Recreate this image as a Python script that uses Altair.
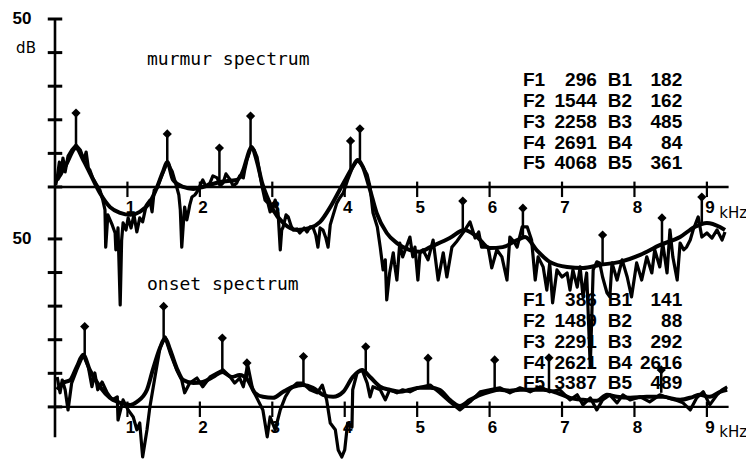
import altair as alt
import pandas as pd

# ---------------- data (kHz, dB) ----------------
MUR_NOISY_KHZ = [0.01,0.03,0.06,0.08,0.11,0.14,0.18,0.23,0.29,0.35,
    0.40,0.43,0.46,0.48,0.52,0.57,0.62,0.66,0.69,0.70,
    0.73,0.79,0.83,0.84,0.87,0.90,0.92,0.94,0.98,1.01,
    1.05,1.09,1.13,1.17,1.21,1.26,1.31,1.34,1.37,1.41,
    1.45,1.49,1.55,1.59,1.62,1.66,1.68,1.71,1.73,1.75,
    1.78,1.79,1.82,1.84,1.86,1.89,1.93,1.96,2.00,2.04,
    2.08,2.14,2.18,2.24,2.28,2.32,2.36,2.42,2.46,2.51,
    2.55,2.60,2.62,2.65,2.71,2.75,2.79,2.83,2.86,2.90,
    2.94,2.97,3.00,3.04,3.08,3.11,3.13,3.15,3.19,3.22,
    3.26,3.29,3.34,3.38,3.44,3.48,3.52,3.56,3.60,3.63,
    3.66,3.70,3.74,3.77,3.80,3.82,3.89,3.93,3.98,4.04,
    4.11,4.18,4.25,4.31,4.35,4.39,4.45,4.49,4.53,4.56,
    4.58,4.62,4.67,4.69,4.72,4.76,4.80,4.86,4.90,4.94,
    4.97,5.01,5.04,5.08,5.15,5.22,5.29,5.36,5.41,5.48,
    5.54,5.59,5.66,5.73,5.80,5.85,5.89,5.98,6.03,6.10,
    6.17,6.24,6.28,6.34,6.38,6.45,6.52,6.58,6.63,6.67,
    6.74,6.79,6.83,6.87,6.93,7.00,7.07,7.11,7.15,7.21,
    7.25,7.29,7.34,7.39,7.43,7.48,7.52,7.56,7.62,7.66,
    7.69,7.76,7.83,7.90,7.96,8.03,8.10,8.17,8.24,8.28,
    8.35,8.39,8.45,8.49,8.53,8.59,8.63,8.68,8.72,8.77,
    8.81,8.88,8.93,9.00,9.07,9.14,9.21,9.25]
MUR_NOISY_DB = [0.6,2.7,7.4,3.6,8.6,4.5,9.2,11.0,12.5,11.0,
    8.0,10.4,5.7,5.1,2.7,0.9,-0.9,-3.9,-6.8,-17.9,
    -8.3,-11.3,-13.7,-18.7,-12.2,-35.1,-15.8,-10.7,-12.8,-9.2,
    -12.2,-8.3,-13.4,-9.2,-10.4,-5.4,-3.9,-7.4,-0.9,-0.3,
    2.1,4.2,7.4,5.7,4.5,1.5,0.0,-2.4,-6.8,-17.9,
    -8.3,-6.0,-9.8,-7.7,-5.4,-3.0,-2.4,-1.5,0.3,2.1,
    0.3,1.2,3.3,2.7,0.3,1.2,3.9,2.1,0.3,1.2,
    3.3,2.7,5.1,8.0,11.9,11.0,8.9,3.6,0.0,-3.9,
    -4.8,-7.4,-6.8,-3.9,-7.7,-18.7,-12.8,-11.9,-8.3,-8.9,
    -11.6,-12.8,-12.5,-13.7,-12.2,-13.4,-11.9,-11.9,-14.3,-17.9,
    -12.2,-12.8,-15.2,-17.9,-11.3,-9.8,-4.8,-3.3,-1.8,2.1,
    6.0,8.0,6.0,3.6,0.0,-7.7,-11.9,-17.9,-24.7,-21.7,
    -33.6,-25.6,-19.6,-23.2,-27.7,-16.7,-20.8,-17.3,-14.9,-20.8,
    -17.9,-27.7,-19.3,-18.7,-21.7,-15.8,-27.7,-19.6,-26.8,-17.9,
    -16.4,-14.9,-12.8,-10.4,-15.2,-13.4,-17.9,-17.9,-24.1,-18.7,
    -20.8,-27.7,-14.9,-16.4,-17.9,-11.9,-11.9,-15.8,-27.7,-20.8,
    -23.8,-30.7,-22.6,-34.5,-24.7,-26.8,-25.6,-30.7,-24.7,-29.8,
    -23.8,-32.7,-25.6,-53.6,-24.7,-22.3,-22.6,-26.8,-31.5,-32.7,
    -22.6,-27.7,-21.7,-26.8,-32.7,-22.6,-27.7,-20.8,-25.6,-18.7,
    -23.8,-16.7,-25.6,-12.8,-20.8,-27.7,-16.7,-18.7,-17.9,-15.8,
    -12.8,-8.9,-14.9,-13.7,-15.2,-12.8,-15.8,-13.4]

MUR_ENV_KHZ = [0.03,0.15,0.29,0.39,0.48,0.62,0.76,0.90,1.04,1.17,
    1.31,1.41,1.49,1.55,1.63,1.77,1.91,2.04,2.28,2.51,
    2.60,2.65,2.71,2.79,2.86,2.93,3.01,3.15,3.34,3.52,
    3.66,3.80,3.93,4.03,4.11,4.18,4.25,4.35,4.44,4.58,
    4.72,4.90,5.04,5.18,5.45,5.65,5.83,6.00,6.18,6.38,
    6.49,6.65,6.83,7.07,7.29,7.52,7.80,8.08,8.35,8.63,
    8.83,9.00,9.18,9.25]
MUR_ENV_DB = [2.1,6.5,11.6,8.0,4.2,-1.8,-6.0,-7.7,-8.3,-7.4,
    -4.5,0.0,4.5,7.4,2.1,0.0,-0.6,0.0,1.5,2.1,
    5.1,8.6,11.9,7.4,1.2,-3.0,-6.8,-10.7,-12.8,-12.2,
    -10.4,-6.0,-0.9,3.0,6.0,8.0,6.0,-0.9,-7.7,-13.7,
    -16.7,-18.8,-19.3,-17.9,-15.2,-12.8,-14.9,-18.2,-17.9,-15.8,
    -14.9,-18.8,-22.3,-23.8,-24.1,-23.2,-22.3,-20.2,-17.3,-14.9,
    -11.9,-10.7,-11.9,-12.8]

ONS_NOISY_KHZ = [0.03,0.07,0.10,0.14,0.18,0.23,0.30,0.39,0.46,0.51,
    0.55,0.59,0.65,0.72,0.79,0.86,0.87,0.94,1.01,1.08,
    1.13,1.17,1.21,1.27,1.31,1.38,1.45,1.52,1.59,1.68,
    1.75,1.79,1.86,1.96,2.04,2.14,2.24,2.32,2.42,2.48,
    2.55,2.60,2.66,2.73,2.80,2.87,2.93,2.97,3.04,3.11,
    3.18,3.24,3.34,3.42,3.52,3.62,3.69,3.75,3.80,3.87,
    3.91,3.96,4.00,4.04,4.10,4.11,4.17,4.24,4.31,4.35,
    4.39,4.49,4.56,4.62,4.72,4.80,4.90,5.01,5.18,5.31,
    5.45,5.59,5.73,5.87,6.00,6.14,6.28,6.42,6.56,6.70,
    6.83,6.97,7.11,7.21,7.29,7.39,7.48,7.56,7.66,7.76,
    7.84,7.94,8.08,8.21,8.35,8.46,8.56,8.67,8.77,8.86,
    8.95,9.04,9.14,9.21,9.28]
ONS_NOISY_DB = [8.9,4.2,8.0,5.1,-0.9,7.1,11.0,15.5,11.9,6.0,
    10.1,5.1,7.4,4.2,2.1,3.0,-3.9,2.1,-0.9,-3.0,
    -6.8,-4.8,-14.9,-6.8,0.0,8.9,17.6,20.8,16.1,11.0,
    8.0,4.2,7.1,8.6,6.0,8.9,10.1,11.0,8.9,7.1,
    8.6,6.0,12.5,5.1,2.1,-0.9,-8.9,-3.0,-6.8,-0.9,
    3.0,5.1,7.1,7.1,5.1,4.2,6.5,2.1,-4.8,-6.8,
    -12.8,-14.9,-12.8,-4.8,-6.0,5.1,10.1,11.0,7.1,3.0,
    6.0,5.1,2.1,5.1,4.2,5.1,4.5,5.7,6.5,4.2,
    1.5,-0.9,1.5,4.5,5.1,5.7,4.2,5.7,4.5,6.0,
    4.5,5.1,2.1,3.6,0.6,2.7,-0.9,2.1,3.6,1.2,
    3.6,2.1,3.0,1.5,3.6,2.7,2.1,1.2,-0.9,2.7,
    4.5,0.6,3.6,5.1,6.0]

ONS_ENV_KHZ = [0.03,0.11,0.21,0.30,0.39,0.48,0.62,0.76,0.90,1.04,
    1.13,1.27,1.35,1.45,1.52,1.59,1.68,1.77,1.91,2.04,
    2.18,2.31,2.44,2.55,2.66,2.76,2.87,3.01,3.15,3.29,
    3.42,3.56,3.70,3.84,3.98,4.11,4.24,4.35,4.49,4.62,
    4.76,4.90,5.04,5.18,5.31,5.45,5.59,5.73,5.87,6.00,
    6.14,6.28,6.42,6.56,6.74,6.93,7.11,7.29,7.48,7.62,
    7.76,7.94,8.17,8.39,8.63,8.81,8.90,9.04,9.18,9.28]
ONS_ENV_DB = [5.1,7.1,8.0,11.9,15.5,11.0,6.0,2.7,1.2,0.6,
    1.5,5.1,11.0,17.6,20.5,17.0,11.6,8.0,7.1,7.4,
    8.9,10.4,8.9,9.5,8.0,4.2,3.0,2.7,4.5,6.0,
    6.5,5.7,3.6,3.0,4.5,8.9,11.0,8.9,6.0,5.1,
    4.5,5.1,5.7,5.7,5.1,2.1,0.3,2.1,3.6,4.5,
    5.1,4.8,5.1,5.1,5.1,4.2,2.7,2.1,1.8,3.6,
    3.0,2.7,3.0,3.0,2.1,3.0,3.6,3.0,4.5,5.1]

# formant / pole markers: frequency, envelope level, marker level
MUR_STEM_KHZ = [0.29, 1.55, 2.27, 2.70, 4.08, 4.21, 5.63, 6.46, 7.56, 8.38, 8.93]
MUR_STEM_BASE = [11.6, 7.4, 1.5, 11.9, 4.5, 7.0, -12.8, -14.9, -23.5, -17.0, -10.8]
MUR_STEM_TOP = [22.0, 15.8, 11.6, 21.1, 13.7, 17.3, -4.2, -6.3, -14.3, -9.2, -3.0]

ONS_STEM_KHZ = [0.41, 1.50, 2.31, 2.65, 3.43, 4.29, 5.15, 6.07, 6.82, 8.37]
ONS_STEM_BASE = [15.5, 20.5, 11.0, 8.6, 6.5, 10.4, 6.2, 5.1, 4.8, 4.2]
ONS_STEM_TOP = [23.9, 29.9, 20.5, 13.1, 15.0, 17.9, 14.5, 14.0, 14.6, 11.0]

ROW_LABELS_F = ["F1", "F2", "F3", "F4", "F5"]
ROW_LABELS_B = ["B1", "B2", "B3", "B4", "B5"]
MUR_F = ["296", "1544", "2258", "2691", "4068"]
MUR_B = ["182", "162", "485", "84", "361"]
ONS_F = ["386", "1489", "2291", "2621", "3387"]
ONS_B = ["141", "88", "292", "2616", "489"]

X_TICKS = [1, 2, 3, 4, 5, 6, 7, 8, 9]
Y_TICKS = [0, 10, 20, 30, 40, 50]
PANELS = ["murmur", "onset"]
PANEL_TITLES = {"murmur": "murmur spectrum", "onset": "onset spectrum"}

# ---------------- layout ----------------
PANEL_OFFSET = 65.47          # murmur panel is drawn above the onset panel
X_MAX = 9.54
Y_MIN, Y_MAX = -16.4, 118.15
INK = "#000000"
XS = alt.Scale(domain=[0, X_MAX], nice=False, zero=False)
YS = alt.Scale(domain=[Y_MIN, Y_MAX], nice=False, zero=False)


def place(field, out):
    return {out: f"datum.{field} + (datum.panel == 'murmur' ? {PANEL_OFFSET} : 0)"}


def X(f):
    return alt.X(f"{f}:Q", scale=XS, axis=None)


def Y(f):
    return alt.Y(f"{f}:Q", scale=YS, axis=None)


# lines
rows = []
for panel, kind, xs, ys in [
    ("murmur", "noisy", MUR_NOISY_KHZ, MUR_NOISY_DB),
    ("murmur", "env", MUR_ENV_KHZ, MUR_ENV_DB),
    ("onset", "noisy", ONS_NOISY_KHZ, ONS_NOISY_DB),
    ("onset", "env", ONS_ENV_KHZ, ONS_ENV_DB),
]:
    assert len(xs) == len(ys)
    for i, (k, d) in enumerate(zip(xs, ys)):
        rows.append({"panel": panel, "kind": kind, "series": panel + kind,
                     "i": i, "khz": k, "db": d})
lines = pd.DataFrame(rows)

noisy = alt.Chart(lines).transform_filter(alt.datum.kind == "noisy").transform_calculate(
    **place("db", "pos")).mark_line(color=INK, strokeWidth=3.2, strokeJoin="round").encode(
    x=X("khz"), y=Y("pos"), detail="series:N", order="i:Q")

env = alt.Chart(lines).transform_filter(alt.datum.kind == "env").transform_calculate(
    **place("db", "pos")).mark_line(color=INK, strokeWidth=4, interpolate="monotone").encode(
    x=X("khz"), y=Y("pos"), detail="series:N", order="i:Q")

# stems
srows = []
for panel, ks, bs, ts in [("murmur", MUR_STEM_KHZ, MUR_STEM_BASE, MUR_STEM_TOP),
                          ("onset", ONS_STEM_KHZ, ONS_STEM_BASE, ONS_STEM_TOP)]:
    for k, b, t in zip(ks, bs, ts):
        srows.append({"panel": panel, "khz": k, "base": b, "top": t})
stems = pd.DataFrame(srows)
stem_base = alt.Chart(stems).transform_calculate(**place("base", "p0")).transform_calculate(
    **place("top", "p1"))
stem_rules = stem_base.mark_rule(color=INK, strokeWidth=2.5).encode(
    x=X("khz"), y=Y("p0"), y2=alt.Y2("p1"))
stem_heads = stem_base.mark_point(shape="diamond", filled=True, color=INK, size=85, opacity=1).encode(
    x=X("khz"), y=Y("p1"))

# axes
axis_rows = [{"panel": p, "x0": 0.0, "x1": 9.3, "db": 0.0} for p in PANELS]
haxes = alt.Chart(pd.DataFrame(axis_rows)).transform_calculate(**place("db", "pos")).mark_rule(
    color=INK, strokeWidth=2.4).encode(x=X("x0"), x2=alt.X2("x1"), y=Y("pos"))
vaxis = alt.Chart(pd.DataFrame([{"panel": "axis", "x": 0.0, "lo": -9.0,
                                 "hi": 50.0 + PANEL_OFFSET}])).mark_rule(
    color=INK, strokeWidth=2.6).encode(x=X("x"), y=Y("lo"), y2=alt.Y2("hi"))

xt = pd.DataFrame([{"panel": p, "khz": k, "lo": -3.0, "hi": 1.6, "labdb": -6.4, "lab": str(k)}
                   for p in PANELS for k in X_TICKS])
xticks = alt.Chart(xt).transform_calculate(**place("lo", "p0")).transform_calculate(
    **place("hi", "p1")).mark_rule(color=INK, strokeWidth=2.2).encode(
    x=X("khz"), y=Y("p0"), y2=alt.Y2("p1"))
xlabels = alt.Chart(xt).transform_calculate(**place("labdb", "p0")).mark_text(
    font="Liberation Sans", fontSize=17, fontWeight="bold", color=INK,
    align="center", baseline="middle", dx=3).encode(
    x=X("khz"), y=Y("p0"), text="lab:N")

yt = pd.DataFrame([{"panel": p, "db": d, "a": -0.1, "b": 0.1} for p in PANELS for d in Y_TICKS])
yticks = alt.Chart(yt).transform_calculate(**place("db", "pos")).mark_rule(
    color=INK, strokeWidth=3).encode(x=X("a"), x2=alt.X2("b"), y=Y("pos"))

# text annotations
units = pd.DataFrame([
    {"panel": "murmur", "khz": -0.455, "db": 50.0, "t": "50"},
    {"panel": "onset", "khz": -0.455, "db": 50.0, "t": "50"},
])
num_labels = alt.Chart(units).transform_calculate(**place("db", "pos")).mark_text(
    font="Liberation Sans", fontSize=17, fontWeight="bold", color=INK,
    align="center", baseline="middle").encode(x=X("khz"), y=Y("pos"), text="t:N")
db_label = alt.Chart(pd.DataFrame([{"panel": "murmur", "khz": -0.40, "db": 41.4, "t": "dB"}])
                     ).transform_calculate(**place("db", "pos")).mark_text(
    font="DejaVu Sans", fontSize=15, color=INK, align="center", baseline="middle").encode(
    x=X("khz"), y=Y("pos"), text="t:N")
khz_labels = alt.Chart(pd.DataFrame([{"panel": p, "khz": 9.17, "db": -7.6, "t": "kHz"}
                                     for p in PANELS])).transform_calculate(
    **place("db", "pos")).mark_text(font="DejaVu Sans", fontSize=15, color=INK,
                                    align="left", baseline="middle").encode(
    x=X("khz"), y=Y("pos"), text="t:N")

titles = alt.Chart(pd.DataFrame([
    {"panel": "murmur", "khz": 1.27, "db": 37.8, "t": PANEL_TITLES["murmur"]},
    {"panel": "onset", "khz": 1.27, "db": 36.3, "t": PANEL_TITLES["onset"]},
])).transform_calculate(**place("db", "pos")).mark_text(
    font="DejaVu Sans Mono", fontSize=18, color=INK, align="left", baseline="middle").encode(
    x=X("khz"), y=Y("pos"), text="t:N")

trows = []
for panel, fv, bv in [("murmur", MUR_F, MUR_B), ("onset", ONS_F, ONS_B)]:
    for r in range(5):
        trows.append({"panel": panel, "row": r, "fl": ROW_LABELS_F[r], "fv": fv[r],
                      "bl": ROW_LABELS_B[r], "bv": bv[r]})
table = pd.DataFrame(trows)
tbase = alt.Chart(table).transform_calculate(rowdb="31.8 - 6.2 * datum.row").transform_calculate(
    **place("rowdb", "pos"))
tstyle = dict(font="Liberation Sans", fontSize=19, fontWeight="bold", color=INK, baseline="middle")
t_fl = tbase.mark_text(align="left", **tstyle).encode(x=alt.X(datum=6.46, scale=XS, axis=None), y=Y("pos"), text="fl:N")
t_fv = tbase.mark_text(align="right", **tstyle).encode(x=alt.X(datum=7.48, scale=XS, axis=None), y=Y("pos"), text="fv:N")
t_bl = tbase.mark_text(align="left", **tstyle).encode(x=alt.X(datum=7.63, scale=XS, axis=None), y=Y("pos"), text="bl:N")
t_bv = tbase.mark_text(align="right", **tstyle).encode(x=alt.X(datum=8.66, scale=XS, axis=None), y=Y("pos"), text="bv:N")

chart = alt.layer(
    haxes, vaxis, xticks, yticks, noisy, env, stem_rules, stem_heads,
    xlabels, num_labels, db_label, khz_labels, titles, t_fl, t_fv, t_bl, t_bv,
).properties(
    width=691, height=452,
    autosize=alt.AutoSizeParams(type="none"),
    padding={"left": 47, "top": 2, "right": 0, "bottom": 0},
).configure_view(stroke=None)

chart.save("out.html", embed_options={"renderer": "svg", "actions": False})
